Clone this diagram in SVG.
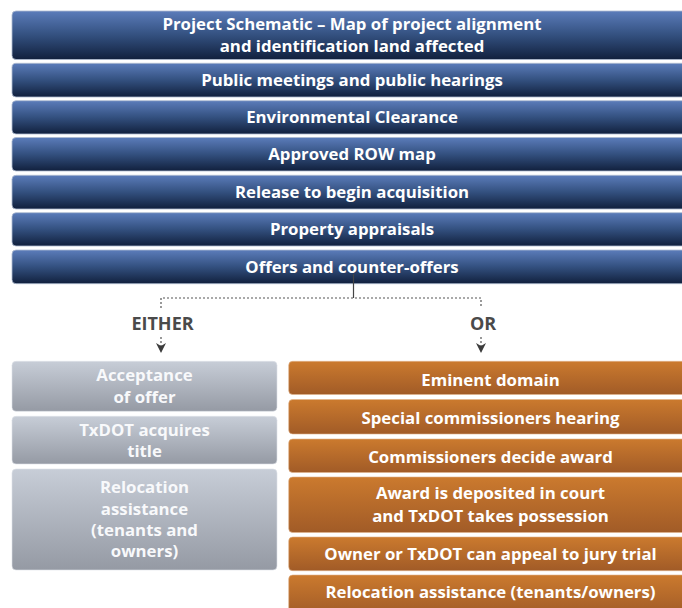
<svg xmlns="http://www.w3.org/2000/svg" width="682" height="608" viewBox="0 0 682 608">
  <defs>
    <linearGradient id="gNavy" x1="0" y1="0" x2="0" y2="1">
      <stop offset="0" stop-color="#5b7cba"/>
      <stop offset="0.5" stop-color="#33507f"/>
      <stop offset="1" stop-color="#11203d"/>
    </linearGradient>
    <linearGradient id="gOrange" x1="0" y1="0" x2="0" y2="1">
      <stop offset="0" stop-color="#cb7a2e"/>
      <stop offset="1" stop-color="#a15b27"/>
    </linearGradient>
    <linearGradient id="gGray" x1="0" y1="0" x2="0" y2="1">
      <stop offset="0" stop-color="#c7cdd7"/>
      <stop offset="1" stop-color="#959aa4"/>
    </linearGradient>
    <marker id="arrow" viewBox="0 0 10 10" refX="10" refY="5" markerWidth="10" markerHeight="10" markerUnits="userSpaceOnUse" orient="auto">
      <path d="M0,0 L10,5 L0,10 L3,5 Z" fill="#3c3c3c"/>
    </marker>
    <style>
      .navy { fill: url(#gNavy); stroke: #aebbd0; stroke-width: 0.8; }
      .orange { fill: url(#gOrange); stroke: #e0b48c; stroke-width: 0.6; }
      .gray { fill: url(#gGray); stroke: #dde1e7; stroke-width: 0.6; }
      .t { font-family: "Open Sans", "Noto Sans", "Liberation Sans", sans-serif; font-weight: bold; font-size: 16.8px; text-anchor: middle; fill: #ffffff; }
      .tg { fill: #f8f9fb; }
      .lbl { font-family: "Open Sans", "Noto Sans", "Liberation Sans", sans-serif; font-weight: bold; font-size: 18px; text-anchor: middle; fill: #4a4a4a; }
      .dot { fill: none; stroke: #555555; stroke-width: 1.2; stroke-dasharray: 2 2; }
      .solid { fill: none; stroke: #444444; stroke-width: 1.2; }
    </style>
  </defs>

  <g id="n1">
    <rect class="navy" x="12" y="11" width="690" height="48.5" rx="4"/>
    <text class="t" x="352" y="30.3">Project Schematic – Map of project alignment</text>
    <text class="t" x="352" y="51.8">and identification land affected</text>
  </g>
  <g id="n2">
    <rect class="navy" x="12" y="63.3" width="690" height="33.7" rx="4"/>
    <text class="t" x="352" y="85.7">Public meetings and public hearings</text>
  </g>
  <g id="n3">
    <rect class="navy" x="12" y="100.7" width="690" height="33.3" rx="4"/>
    <text class="t" x="352" y="123.2">Environmental Clearance</text>
  </g>
  <g id="n4">
    <rect class="navy" x="12" y="137.5" width="690" height="33.5" rx="4"/>
    <text class="t" x="352" y="160">Approved ROW map</text>
  </g>
  <g id="n5">
    <rect class="navy" x="12" y="175.3" width="690" height="33.7" rx="4"/>
    <text class="t" x="352" y="198">Release to begin acquisition</text>
  </g>
  <g id="n6">
    <rect class="navy" x="12" y="212.7" width="690" height="33.3" rx="4"/>
    <text class="t" x="352" y="235.2">Property appraisals</text>
  </g>
  <g id="n7">
    <rect class="navy" x="12" y="250" width="690" height="33.7" rx="4"/>
    <text class="t" x="352" y="272.7">Offers and counter-offers</text>
  </g>

  <g id="connectors">
    <line class="solid" x1="353.5" y1="274" x2="353.5" y2="298"/>
    <polyline class="dot" points="161,308 161,298 481,298 481,308"/>
    <line class="dot" x1="161" y1="337" x2="161" y2="353" marker-end="url(#arrow)"/>
    <line class="dot" x1="481" y1="337" x2="481" y2="353" marker-end="url(#arrow)"/>
  </g>

  <g id="either">
    <text class="lbl" x="162.5" y="330">EITHER</text>
  </g>
  <g id="or">
    <text class="lbl" x="483" y="330">OR</text>
  </g>

  <g id="g1">
    <rect class="gray" x="12" y="361.3" width="265" height="50" rx="4"/>
    <text class="t tg" x="144.5" y="381.3">Acceptance</text>
    <text class="t tg" x="144.5" y="403">of offer</text>
  </g>
  <g id="g2">
    <rect class="gray" x="12" y="416.3" width="265" height="47.7" rx="4"/>
    <text class="t tg" x="144.5" y="435.7">TxDOT acquires</text>
    <text class="t tg" x="144.5" y="456.7">title</text>
  </g>
  <g id="g3">
    <rect class="gray" x="12" y="469" width="265" height="101" rx="4"/>
    <text class="t tg" x="144.5" y="493.3">Relocation</text>
    <text class="t tg" x="144.5" y="515">assistance</text>
    <text class="t tg" x="144.5" y="536">(tenants and</text>
    <text class="t tg" x="144.5" y="557.3">owners)</text>
  </g>

  <g id="o1">
    <rect class="orange" x="288.7" y="361.3" width="410" height="33.2" rx="4"/>
    <text class="t" x="490.5" y="385.5">Eminent domain</text>
  </g>
  <g id="o2">
    <rect class="orange" x="288.7" y="399.5" width="410" height="34.5" rx="4"/>
    <text class="t" x="490.5" y="424">Special commissioners hearing</text>
  </g>
  <g id="o3">
    <rect class="orange" x="288.7" y="439" width="410" height="33.5" rx="4"/>
    <text class="t" x="490.5" y="462.5">Commissioners decide award</text>
  </g>
  <g id="o4">
    <rect class="orange" x="288.7" y="477" width="410" height="55.5" rx="4"/>
    <text class="t" x="490.5" y="499.3">Award is deposited in court</text>
    <text class="t" x="490.5" y="521.7">and TxDOT takes possession</text>
  </g>
  <g id="o5">
    <rect class="orange" x="288.7" y="537" width="410" height="33.7" rx="4"/>
    <text class="t" x="490.5" y="559.5">Owner or TxDOT can appeal to jury trial</text>
  </g>
  <g id="o6">
    <rect class="orange" x="288.7" y="575" width="410" height="40" rx="4"/>
    <text class="t" x="490.5" y="597.7">Relocation assistance (tenants/owners)</text>
  </g>
</svg>
